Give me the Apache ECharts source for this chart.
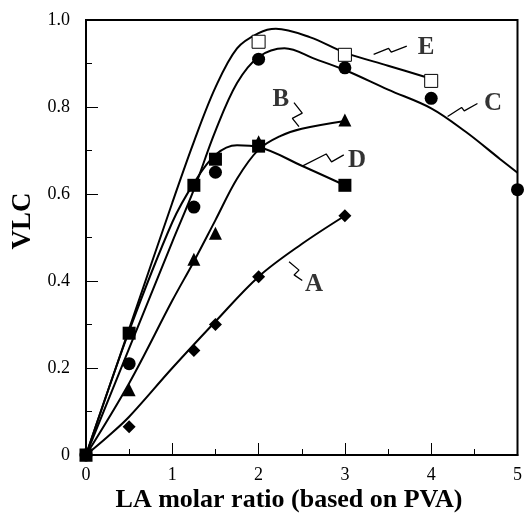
<!DOCTYPE html>
<html>
<head>
<meta charset="utf-8">
<script src="https://cdn.jsdelivr.net/npm/echarts@6/dist/echarts.min.js"></script>
<style>
  html, body { margin: 0; padding: 0; background: #fff; }
  #chart { width: 525px; height: 513px; }
</style>
</head>
<body>
<div id="chart"></div>
<script>
// Measured points (LA molar ratio vs VLC)
const ptsA = [[0, 0], [0.5, 0.065], [1.25, 0.24], [1.5, 0.30], [2, 0.41], [3, 0.55]];
const ptsB = [[0, 0], [0.5, 0.15], [1.25, 0.45], [1.5, 0.51], [2, 0.72], [3, 0.77]];
const ptsC = [[0, 0], [0.5, 0.21], [1.25, 0.57], [1.5, 0.65], [2, 0.91], [3, 0.89], [4, 0.82], [5, 0.61]];
const ptsD = [[0, 0], [0.5, 0.28], [1.25, 0.62], [1.5, 0.68], [2, 0.71], [3, 0.62]];
const ptsE = [[2, 0.95], [3, 0.92], [4, 0.86]];

// Fitted trend curves
const fitA = [[0, 0], [0.25, 0.042], [0.5, 0.088], [1, 0.20], [1.5, 0.307], [2, 0.41], [2.5, 0.485], [3, 0.55]];
const fitB = [[0, 0], [0.5, 0.165], [1, 0.355], [1.25, 0.445], [1.5, 0.54], [1.75, 0.635], [2, 0.702], [2.25, 0.733], [2.5, 0.75], [3, 0.768]];
const fitC = [[0, 0], [0.5, 0.245], [1, 0.49], [1.25, 0.61], [1.5, 0.745], [1.75, 0.855], [2, 0.915], [2.3, 0.935], [2.66, 0.91], [3, 0.885], [3.5, 0.84], [4, 0.797], [4.4, 0.743], [4.8, 0.68], [5, 0.649]];
const fitD = [[0, 0], [0.5, 0.285], [1, 0.535], [1.25, 0.625], [1.5, 0.69], [1.75, 0.712], [2, 0.708], [2.5, 0.665], [3, 0.62]];
const fitE = [[0, 0], [0.5, 0.29], [1, 0.58], [1.25, 0.72], [1.5, 0.845], [1.75, 0.935], [2, 0.97], [2.2, 0.98], [2.6, 0.96], [3, 0.925], [3.5, 0.895], [4, 0.865]];

// Curve labels and their zigzag leaders
const labelNames = ['A', 'B', 'C', 'D', 'E'];
const labelPos = [[2.641, 0.391], [2.257, 0.816], [4.717, 0.808], [3.141, 0.678], [3.94, 0.936]];
const leaderA = [[2.353, 0.444], [2.468, 0.425], [2.411, 0.414], [2.506, 0.401]];
const leaderB = [[2.41, 0.81], [2.506, 0.786], [2.391, 0.774], [2.468, 0.755]];
const leaderC = [[4.19, 0.778], [4.352, 0.799], [4.383, 0.791], [4.536, 0.808]];
const leaderD = [[2.506, 0.664], [2.783, 0.692], [2.845, 0.674], [2.987, 0.690]];
const leaderE = [[3.333, 0.921], [3.506, 0.935], [3.537, 0.926], [3.717, 0.940]];

const xTicks = [0, 1, 2, 3, 4, 5];
const yTicks = [0, 0.2, 0.4, 0.6, 0.8, 1.0];

const SERIF = '"Liberation Serif", "DejaVu Serif", "Times New Roman", serif';

function fitSeries(data) {
  return {
    type: 'line', data: data, smooth: 0.35, showSymbol: false, symbol: 'none',
    lineStyle: { color: '#000', width: 2 }, z: 2, silent: true
  };
}
function pointSeries(data, symbol, size, fill) {
  return {
    type: 'scatter', data: data, symbol: symbol, symbolSize: size, clip: false,
    itemStyle: { color: fill || '#000', borderColor: '#000', borderWidth: fill ? 1 : 0, opacity: 1 },
    z: 4, silent: true
  };
}
function leaderSeries(data) {
  return {
    type: 'line', data: data, smooth: false, symbol: 'none',
    lineStyle: { color: '#000', width: 1.3 }, z: 3, silent: true
  };
}

const chart = echarts.init(document.getElementById('chart'), null, { renderer: 'canvas' });

const option = {
  backgroundColor: '#fff',
  animation: false,
  grid: {
    left: 86, top: 20, width: 433, height: 435,
    show: true, borderColor: '#000', borderWidth: 2, backgroundColor: 'transparent'
  },
  xAxis: {
    type: 'value', min: 0, max: 5, interval: 1,
    axisLine: { show: true, lineStyle: { color: '#000', width: 2 } },
    axisTick: { show: true, inside: true, length: 12, lineStyle: { color: '#000', width: 1 } },
    minorTick: { show: true, splitNumber: 2, length: 6, lineStyle: { color: '#000', width: 1 } },
    axisLabel: {
      color: '#000', fontFamily: SERIF, fontSize: 18, margin: 11,
      formatter: v => xTicks.includes(v) ? String(v) : ''
    },
    splitLine: { show: false }
  },
  yAxis: {
    type: 'value', min: 0, max: 1, interval: 0.2,
    axisLine: { show: true, lineStyle: { color: '#000', width: 2 } },
    axisTick: { show: true, inside: true, length: 12, lineStyle: { color: '#000', width: 1 } },
    minorTick: { show: true, splitNumber: 2, length: 6, lineStyle: { color: '#000', width: 1 } },
    axisLabel: {
      color: '#000', fontFamily: SERIF, fontSize: 18, margin: 16,
      formatter: v => {
        const t = yTicks.find(k => Math.abs(k - v) < 1e-9);
        if (t === undefined) return '';
        return t === 0 ? '0' : t.toFixed(1);
      }
    },
    splitLine: { show: false }
  },
  graphic: [
    {
      type: 'text', x: 289, y: 500,
      style: {
        text: 'LA molar ratio (based on PVA)', fill: '#000',
        font: 'bold 26px ' + SERIF, textAlign: 'center', textVerticalAlign: 'middle'
      }
    },
    {
      type: 'text', x: 23, y: 221, rotation: Math.PI / 2,
      style: {
        text: 'VLC', fill: '#000', font: 'bold 27px ' + SERIF,
        textAlign: 'center', textVerticalAlign: 'middle'
      }
    }
  ],
  series: [
    fitSeries(fitA), fitSeries(fitB), fitSeries(fitC), fitSeries(fitD), fitSeries(fitE),
    leaderSeries(leaderA), leaderSeries(leaderB), leaderSeries(leaderC), leaderSeries(leaderD), leaderSeries(leaderE),
    pointSeries(ptsA, 'diamond', 13),
    pointSeries(ptsB, 'triangle', 13),
    pointSeries(ptsC, 'circle', 13),
    pointSeries(ptsE, 'rect', 13, '#fff'),
    pointSeries(ptsD, 'rect', 13),
    {
      type: 'scatter', symbolSize: 0, clip: false, silent: true, z: 5,
      data: labelPos.map((p, i) => ({ value: p, name: labelNames[i] })),
      label: {
        show: true, position: 'inside', formatter: p => p.name,
        color: '#000', fontFamily: SERIF, fontWeight: 'bold', fontSize: 25
      }
    }
  ]
};
chart.setOption(option);
</script>
</body>
</html>
